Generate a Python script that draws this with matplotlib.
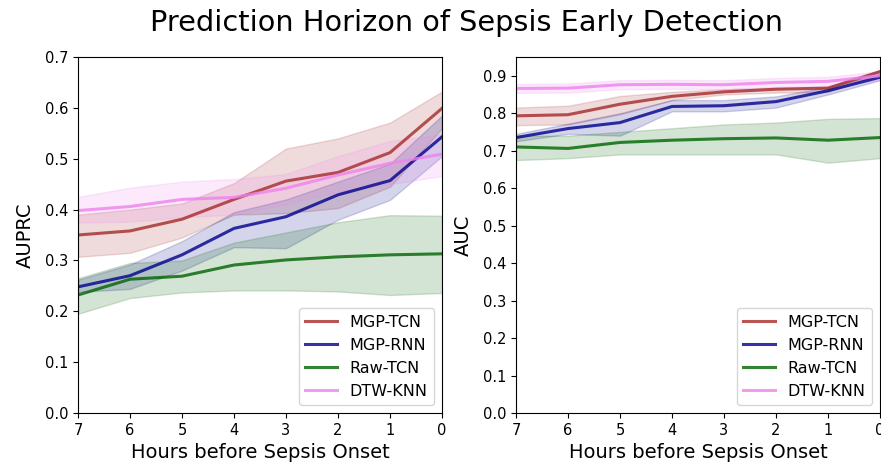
import matplotlib
matplotlib.use('Agg')
import matplotlib.pyplot as plt
import numpy as np

# hours before sepsis onset
hours = [7, 6, 5, 4, 3, 2, 1, 0]
models = ['MGP-TCN', 'MGP-RNN', 'Raw-TCN', 'DTW-KNN']
colors = ['brown', 'darkblue', 'darkgreen', 'violet']

# AUPRC (mean, lower, upper)
auprc_mean = {
    'MGP-TCN': [0.350, 0.358, 0.381, 0.420, 0.456, 0.473, 0.512, 0.599],
    'MGP-RNN': [0.248, 0.270, 0.311, 0.363, 0.386, 0.429, 0.457, 0.543],
    'Raw-TCN': [0.232, 0.263, 0.269, 0.291, 0.301, 0.307, 0.311, 0.313],
    'DTW-KNN': [0.398, 0.406, 0.420, 0.424, 0.442, 0.468, 0.491, 0.509],
}
auprc_low = {
    'MGP-TCN': [0.307, 0.315, 0.345, 0.390, 0.393, 0.403, 0.445, 0.560],
    'MGP-RNN': [0.238, 0.244, 0.280, 0.326, 0.324, 0.380, 0.419, 0.505],
    'Raw-TCN': [0.195, 0.226, 0.237, 0.241, 0.241, 0.239, 0.232, 0.236],
    'DTW-KNN': [0.375, 0.376, 0.385, 0.390, 0.410, 0.435, 0.450, 0.466],
}
auprc_high = {
    'MGP-TCN': [0.390, 0.400, 0.412, 0.452, 0.520, 0.540, 0.571, 0.632],
    'MGP-RNN': [0.262, 0.292, 0.338, 0.395, 0.420, 0.455, 0.490, 0.585],
    'Raw-TCN': [0.265, 0.295, 0.300, 0.335, 0.355, 0.375, 0.389, 0.388],
    'DTW-KNN': [0.425, 0.443, 0.455, 0.460, 0.470, 0.505, 0.535, 0.548],
}

# AUC (mean, lower, upper)
auc_mean = {
    'MGP-TCN': [0.793, 0.796, 0.824, 0.845, 0.857, 0.864, 0.867, 0.911],
    'MGP-RNN': [0.735, 0.759, 0.775, 0.818, 0.820, 0.831, 0.860, 0.896],
    'Raw-TCN': [0.710, 0.706, 0.722, 0.728, 0.732, 0.734, 0.728, 0.735],
    'DTW-KNN': [0.866, 0.867, 0.876, 0.877, 0.876, 0.882, 0.885, 0.900],
}
auc_low = {
    'MGP-TCN': [0.768, 0.770, 0.797, 0.835, 0.850, 0.855, 0.857, 0.905],
    'MGP-RNN': [0.725, 0.745, 0.740, 0.805, 0.805, 0.815, 0.850, 0.888],
    'Raw-TCN': [0.675, 0.680, 0.690, 0.690, 0.690, 0.690, 0.668, 0.680],
    'DTW-KNN': [0.854, 0.855, 0.864, 0.865, 0.864, 0.870, 0.873, 0.888],
}
auc_high = {
    'MGP-TCN': [0.815, 0.820, 0.846, 0.857, 0.864, 0.868, 0.870, 0.915],
    'MGP-RNN': [0.745, 0.772, 0.800, 0.835, 0.835, 0.845, 0.870, 0.905],
    'Raw-TCN': [0.740, 0.740, 0.750, 0.760, 0.770, 0.775, 0.785, 0.787],
    'DTW-KNN': [0.878, 0.879, 0.888, 0.889, 0.888, 0.894, 0.897, 0.912],
}

fig = plt.figure(figsize=(8.81, 4.66), dpi=100)
ax1 = fig.add_axes([78 / 881, 53 / 466, 364 / 881, 356 / 466])
ax2 = fig.add_axes([516 / 881, 53 / 466, 364 / 881, 356 / 466])

for ax, mean, low, high, ylabel in [(ax1, auprc_mean, auprc_low, auprc_high, 'AUPRC'),
                                    (ax2, auc_mean, auc_low, auc_high, 'AUC')]:
    for m, c in zip(models, colors):
        ax.plot(hours, mean[m], color=c, alpha=0.8, lw=2.2, label=m)
        ax.fill_between(hours, low[m], high[m], color=c, alpha=0.17)
    ax.set_xlim(7, 0)
    ax.set_xlabel('Hours before Sepsis Onset', fontsize=14, labelpad=4)
    ax.set_ylabel(ylabel, fontsize=14, labelpad=7)
    ax.tick_params(labelsize=10.5)
    ax.legend(loc='lower right', fontsize=11.5)

ax1.set_ylim(0, 0.7)
ax2.set_ylim(0, 0.95)
ax1.set_yticks(np.arange(0, 0.71, 0.1))
ax2.set_yticks(np.arange(0, 0.91, 0.1))

fig.suptitle('Prediction Horizon of Sepsis Early Detection', fontsize=20.7,
             x=0.5295, y=0.95, va='center')

fig.savefig('out.png', dpi=100)
